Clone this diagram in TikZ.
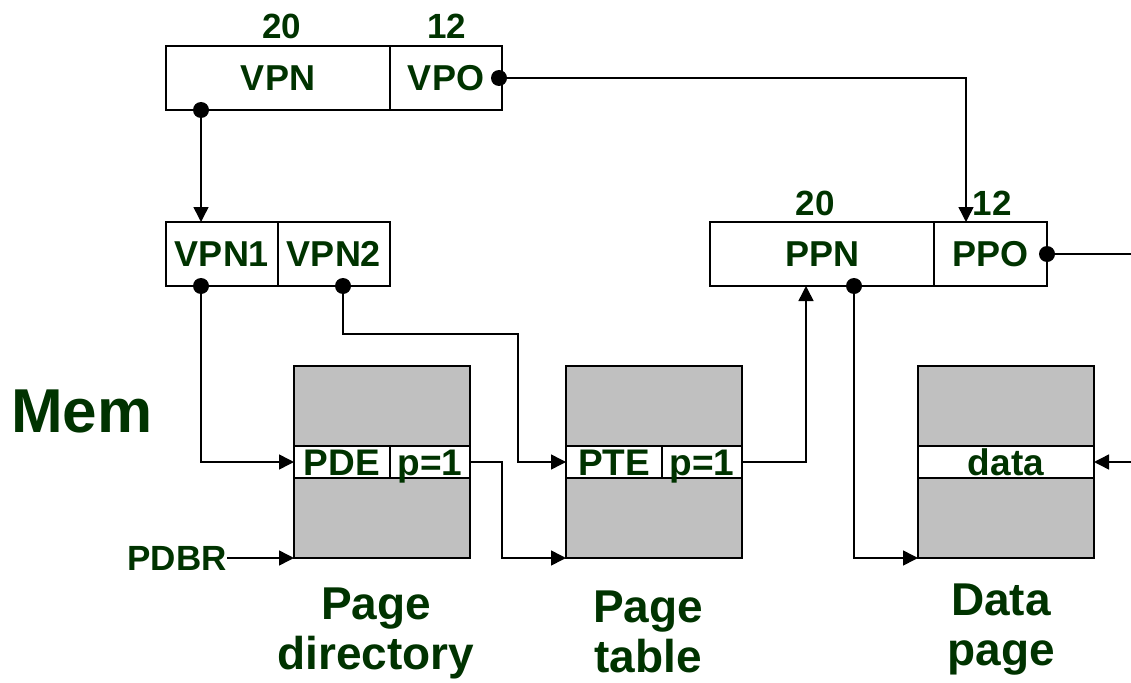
\documentclass[tikz,border=0pt]{standalone}
\usepackage{fontspec}
\setmainfont{Liberation Sans}
\usetikzlibrary{arrows.meta,calc}
\definecolor{dg}{RGB}{0,51,0}
\definecolor{memgray}{RGB}{192,192,192}
\begin{document}
\begin{tikzpicture}[x=1pt,y=-1pt,
  cell/.style={draw=black,line width=1.6pt,fill=white,minimum height=64pt,inner sep=0pt,outer sep=0pt,
    text=dg,font=\bfseries\fontsize{36}{36}\selectfont,text height=25.8pt,text depth=0pt},
  rowcell/.style={draw=black,line width=1.6pt,fill=white,minimum height=32pt,inner sep=0pt,outer sep=0pt,
    text=dg,font=\bfseries\fontsize{37}{37}\selectfont,text height=26.5pt,text depth=0pt},
  membox/.style={draw=black,line width=1.6pt,fill=memgray,inner sep=0pt,outer sep=0pt,minimum width=176pt,minimum height=192pt},
  num/.style={text=dg,font=\bfseries\fontsize{35}{35}\selectfont,inner sep=0pt,anchor=base},
  capt/.style={text=dg,font=\bfseries\fontsize{46}{50}\selectfont,inner sep=0pt,align=center,anchor=north},
  arr/.style={line width=1.5pt,-{Triangle[length=15pt,width=15pt]}},
  wire/.style={line width=1.5pt},
  dot/.style={fill=black}
]
\useasboundingbox (0,0) rectangle (1131,682);

% virtual address
\node[cell,minimum width=224pt] (vpn) at (278,78) {VPN};
\node[cell,minimum width=112pt] (vpo) at (446,78) {VPO};
\node[num] (n20a) at (282,39) {20};
\node[num] (n12a) at (446.5,39) {12};

% VPN1 / VPN2
\node[cell,minimum width=112pt] (vpn1) at (222,254) {VPN1};
\node[cell,minimum width=112pt] (vpn2) at (334,254) {VPN2};

% physical address
\node[cell,minimum width=224pt] (ppn) at (822,254) {PPN};
\node[cell,minimum width=113pt] (ppo) at (990.5,254) {PPO};
\node[num] (n20b) at (815,215) {20};
\node[num] (n12b) at (992,215) {12};

% memory
\node[text=dg,font=\bfseries\fontsize{62}{62}\selectfont,inner sep=0pt,anchor=base west] (mem) at (11,432) {Mem};

\node[membox] (pd) at (382,462) {};
\node[membox] (pt) at (654,462) {};
\node[membox] (dp) at (1006,462) {};

\node[rowcell,minimum width=96pt] (pde) at (342,462) {PDE};
\node[rowcell,minimum width=80pt] (pdp) at (430,462) {p=1};
\node[rowcell,minimum width=96pt] (pte) at (614,462) {PTE};
\node[rowcell,minimum width=80pt] (ptp) at (702,462) {p=1};
\node[rowcell,minimum width=176pt] (data) at (1006,462) {data};

\node[text=dg,font=\bfseries\fontsize{35}{35}\selectfont,inner sep=0pt,anchor=east,text height=25pt,text depth=0pt] (pdbr) at (227,558) {PDBR};

\node[capt] (cpd) at (376,588) {Page\\directory};
\node[capt] (cpt) at (648,591) {Page\\table};
\node[capt] (cdp) at (1001,584) {Data\\page};

% connector points
\coordinate (d1) at ($(vpn.south west)+(35,0)$);
\coordinate (d2) at ($(vpn2.south west)+(65,0)$);
\coordinate (d3) at ($(ppn.south)+(32,0)$);
\coordinate (ppoin) at ($(ppo.north west)+(32,0)$);
\coordinate (ppnin) at ($(ppn.south)+(-16,0)$);
\coordinate (rightout) at (1131,254);
\coordinate (rightin) at (1131,462);

% connectors
\draw[arr] (d1) -- (d1 |- vpn1.north);
\draw[arr] (vpo.east) -| (ppoin);
\draw[arr] (d1 |- vpn1.south) |- (pde.west);
\draw[arr] (d2) -- ++(0,48) -| ($(pte.west)+(-48,0)$) -- (pte.west);
\draw[arr] (pdp.east) -- ++(32,0) |- (pt.south west);
\draw[arr] (pdbr.east) -- (pd.south west);
\draw[arr] (ptp.east) -| (ppnin);
\draw[arr] (d3) |- (dp.south west);
\draw[wire] (ppo.east) -- (rightout);
\draw[arr] (rightin) -- (data.east);

% dots
\fill[dot] (d1) circle (8pt);
\fill[dot] ($(vpo.east)+(-3,0)$) circle (8pt);
\fill[dot] (d1 |- vpn1.south) circle (8pt);
\fill[dot] (d2) circle (8pt);
\fill[dot] (d3) circle (8pt);
\fill[dot] (ppo.east) circle (8pt);
\end{tikzpicture}
\end{document}
